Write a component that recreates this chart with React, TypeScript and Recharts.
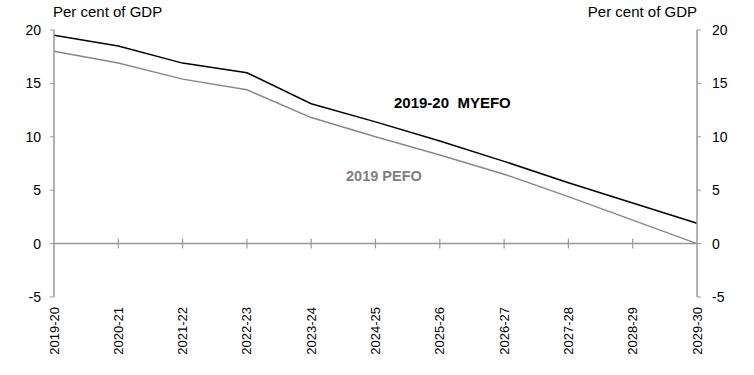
import React from 'react';
import {
  LineChart, Line, XAxis, YAxis, ReferenceLine,
} from 'recharts';

// Financial years on the x axis
const years = [
  '2019-20', '2020-21', '2021-22', '2022-23', '2023-24', '2024-25',
  '2025-26', '2026-27', '2027-28', '2028-29', '2029-30',
];

// Per cent of GDP
const myefo = [19.5, 18.5, 16.9, 16.0, 13.1, 11.4, 9.6, 7.7, 5.7, 3.8, 1.9];
const pefo = [18.0, 16.9, 15.4, 14.4, 11.8, 10.0, 8.3, 6.5, 4.4, 2.2, 0.0];

const yTicks = [-5, 0, 5, 10, 15, 20];

const AXIS = '#999999';
const FONT = '"Liberation Sans", Arial, sans-serif';

const data = years.map((year, i) => ({ year, myefo: myefo[i], pefo: pefo[i] }));

const YearTick = ({ x, y, payload }: any) => (
  <text
    x={x}
    y={y}
    transform={`rotate(-90 ${x} ${y})`}
    textAnchor="end"
    dy="0.35em"
    fill="#000"
    fontSize={13}
    fontFamily={FONT}
  >
    {payload.value}
  </text>
);

export default function App() {
  const tickStyle = { fill: '#000', fontSize: 14, fontFamily: FONT };

  return (
    <div style={{ position: 'absolute', left: 0, top: 0, width: 754, height: 375, background: '#fff', fontFamily: FONT }}>
      <LineChart width={754} height={375} data={data} margin={{ top: 30, right: 0, left: 0, bottom: 0 }}>
        <XAxis
          dataKey="year"
          axisLine={false}
          tickLine={false}
          tickSize={0}
          tickMargin={10}
          height={78}
          interval={0}
          tick={<YearTick />}
        />
        <YAxis
          yAxisId="left"
          orientation="left"
          width={54}
          domain={[-5, 20]}
          ticks={yTicks}
          tick={tickStyle}
          tickSize={4}
          tickMargin={9}
          axisLine={{ stroke: AXIS, strokeWidth: 1.5 }}
          tickLine={{ stroke: AXIS }}
        />
        <YAxis
          yAxisId="right"
          orientation="right"
          width={57}
          domain={[-5, 20]}
          ticks={yTicks}
          tick={tickStyle}
          tickSize={4}
          tickMargin={11}
          axisLine={{ stroke: AXIS, strokeWidth: 1.5 }}
          tickLine={{ stroke: AXIS }}
        />

        {/* zero line acts as the category axis */}
        <ReferenceLine yAxisId="left" y={0} stroke={AXIS} strokeWidth={1.5} />
        {years.slice(1, -1).map((yr) => (
          <ReferenceLine
            key={yr}
            yAxisId="left"
            segment={[{ x: yr, y: -0.45 }, { x: yr, y: 0.45 }]}
            stroke={AXIS}
            strokeWidth={1.2}
          />
        ))}

        {/* both axes share the same -5..20 range */}
        <Line
          yAxisId="right"
          type="linear"
          dataKey="pefo"
          stroke="#888888"
          strokeWidth={1.5}
          dot={false}
          isAnimationActive={false}
        />
        <Line
          yAxisId="left"
          type="linear"
          dataKey="myefo"
          stroke="#000000"
          strokeWidth={1.5}
          dot={false}
          isAnimationActive={false}
        />
      </LineChart>

      <div style={{ position: 'absolute', left: 53, top: 3, fontSize: 15, color: '#000' }}>Per cent of GDP</div>
      <div style={{ position: 'absolute', right: 57, top: 3, fontSize: 15, color: '#000' }}>Per cent of GDP</div>
      <div style={{ position: 'absolute', left: 394, top: 94, fontSize: 15, fontWeight: 'bold', color: '#000', whiteSpace: 'pre' }}>
        2019-20  MYEFO
      </div>
      <div style={{ position: 'absolute', left: 346, top: 168, fontSize: 14.5, fontWeight: 'bold', color: '#808080', whiteSpace: 'pre' }}>
        2019 PEFO
      </div>
    </div>
  );
}
